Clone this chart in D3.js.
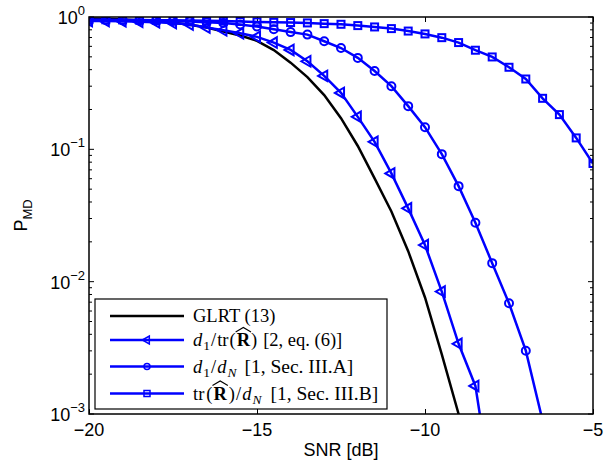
<!DOCTYPE html>
<html>
<head>
<meta charset="utf-8">
<script src="https://cdn.jsdelivr.net/npm/d3@7"></script>
<style>
  body { margin: 0; background: #fff; }
</style>
</head>
<body>
<div id="chart-area"></div>
<script>
// P_MD vs SNR (every 0.5 dB)
var snr = [-20, -19.5, -19, -18.5, -18, -17.5, -17, -16.5, -16, -15.5, -15, -14.5, -14, -13.5, -13,
           -12.5, -12, -11.5, -11, -10.5, -10, -9.5, -9, -8.5, -8, -7.5, -7, -6.5, -6, -5.5, -5];

var glrt = [0.975, 0.968, 0.959, 0.946, 0.929, 0.904, 0.875, 0.832, 0.776, 0.724, 0.661, 0.562,
            0.452, 0.351, 0.257, 0.172, 0.106, 0.0603, 0.0339, 0.0170, 0.00759, 0.00282, 0.00100, 0.000316];

var triVals = [0.933, 0.931, 0.927, 0.920, 0.912, 0.900, 0.877, 0.832, 0.794, 0.753, 0.708, 0.641,
               0.564, 0.463, 0.359, 0.267, 0.176, 0.114, 0.0658, 0.0358, 0.0189, 0.00841, 0.00339,
               0.00163, 0.000251];

var circVals = [0.951, 0.948, 0.946, 0.942, 0.938, 0.931, 0.925, 0.914, 0.902, 0.879, 0.847, 0.807,
                0.769, 0.736, 0.656, 0.583, 0.491, 0.391, 0.300, 0.212, 0.147, 0.0920, 0.0527,
                0.0279, 0.0138, 0.00687, 0.00301, 0.000891];

var sqVals = [0.955, 0.953, 0.951, 0.948, 0.946, 0.944, 0.940, 0.935, 0.931, 0.925, 0.918, 0.912,
              0.908, 0.902, 0.891, 0.881, 0.861, 0.841, 0.817, 0.783, 0.745, 0.698, 0.641, 0.561,
              0.499, 0.417, 0.340, 0.243, 0.183, 0.122, 0.0782];

var xTicks = [-20, -15, -10, -5];
var yMajor = [1e-3, 1e-2, 1e-1, 1];
var yExp = ["\u22123", "\u22122", "\u22121", "0"];

var margin = {left: 89, right: 17, top: 17, bottom: 50};
var width = 610 - margin.left - margin.right,
    height = 464 - margin.top - margin.bottom;

var blue = "#0000ff";

var svg = d3.select("#chart-area")
    .append("svg")
        .attr("width", 610)
        .attr("height", 464)
        .style("font-family", "'Liberation Sans', Arial, sans-serif");

var g = svg.append("g")
    .attr("transform", "translate(" + margin.left + "," + margin.top + ")");

var x = d3.scaleLinear().domain([-20, -5]).range([0, width]);
var y = d3.scaleLog().domain([1e-3, 1]).range([height, 0]);

g.append("rect")
    .attr("width", width).attr("height", height)
    .attr("fill", "#fff");

g.append("clipPath").attr("id", "clip")
  .append("rect").attr("width", width).attr("height", height);

// ticks, pointing inward on all four sides
var xAxisB = d3.axisBottom(x).tickValues(xTicks).tickSize(-5).tickFormat("");
var xAxisT = d3.axisTop(x).tickValues(xTicks).tickSize(-5).tickFormat("");
g.append("g").attr("transform", "translate(0," + height + ")").call(xAxisB);
g.append("g").call(xAxisT);

var allY = y.ticks();
allY.forEach(function(v) {
    var major = Math.abs(Math.log10(v) - Math.round(Math.log10(v))) < 1e-9;
    var len = major ? 5 : 3;
    g.append("line").attr("x1", 0).attr("x2", len).attr("y1", y(v)).attr("y2", y(v))
        .attr("stroke", "#000").attr("stroke-width", 1);
    g.append("line").attr("x1", width).attr("x2", width - len).attr("y1", y(v)).attr("y2", y(v))
        .attr("stroke", "#000").attr("stroke-width", 1);
});
g.selectAll(".domain").remove();
g.selectAll(".tick line").attr("stroke", "#000").attr("stroke-width", 1);

// tick labels
g.selectAll(".xlab")
    .data(xTicks)
  .enter().append("text")
    .attr("x", function(d) { return x(d); })
    .attr("y", height + 22)
    .attr("text-anchor", "middle")
    .attr("font-size", "18px")
    .text(function(d) { return d < 0 ? "\u2212" + Math.abs(d) : d; });

yMajor.forEach(function(v, i) {
    var t = g.append("text")
        .attr("x", -4)
        .attr("y", y(v) + 7)
        .attr("text-anchor", "end")
        .attr("font-size", "18px");
    t.append("tspan").text("10");
    t.append("tspan").attr("dy", -9).attr("font-size", "13px").text(yExp[i]);
});

// axis titles
svg.append("text")
    .attr("x", margin.left + x(-12.5))
    .attr("y", 456)
    .attr("text-anchor", "middle")
    .attr("font-size", "18px")
    .text("SNR [dB]");

var yl = svg.append("text")
    .attr("transform", "translate(27," + (margin.top + height / 2) + ") rotate(-90)")
    .attr("text-anchor", "middle")
    .attr("font-size", "18px");
yl.append("tspan").text("P");
yl.append("tspan").attr("dy", 5).attr("font-size", "13px").text("MD");

// curves
var plot = g.append("g").attr("clip-path", "url(#clip)");

var line = d3.line()
    .x(function(d, i) { return x(snr[i]); })
    .y(function(d) { return y(d); });

plot.append("path").datum(glrt)
    .attr("d", line).attr("fill", "none")
    .attr("stroke", "#000").attr("stroke-width", 2.5);

var triSym = d3.symbol().type(d3.symbolTriangle).size(48);

function drawSeries(vals, kind) {
    plot.append("path").datum(vals)
        .attr("d", line).attr("fill", "none")
        .attr("stroke", blue).attr("stroke-width", 2.5);
    var m = plot.selectAll(".m-" + kind)
        .data(vals)
      .enter();
    if (kind == "tri") {
        m.append("path")
            .attr("d", triSym)
            .attr("transform", function(d, i) { return "translate(" + x(snr[i]) + "," + y(d) + ") rotate(-90)"; })
            .attr("fill", "none").attr("stroke", blue).attr("stroke-width", 2);
    } else if (kind == "circ") {
        m.append("circle")
            .attr("cx", function(d, i) { return x(snr[i]); })
            .attr("cy", function(d) { return y(d); })
            .attr("r", 4)
            .attr("fill", "none").attr("stroke", blue).attr("stroke-width", 2);
    } else {
        m.append("rect")
            .attr("x", function(d, i) { return x(snr[i]) - 3.5; })
            .attr("y", function(d) { return y(d) - 3.5; })
            .attr("width", 7).attr("height", 7)
            .attr("fill", "none").attr("stroke", blue).attr("stroke-width", 2);
    }
}
drawSeries(triVals, "tri");
drawSeries(circVals, "circ");
drawSeries(sqVals, "sq");

// frame
g.append("rect")
    .attr("width", width).attr("height", height)
    .attr("fill", "none").attr("stroke", "#000").attr("stroke-width", 1.5);

// legend
var lg = svg.append("g").attr("transform", "translate(95,299)");
lg.append("rect")
    .attr("width", 292).attr("height", 110)
    .attr("fill", "#fff").attr("stroke", "#000").attr("stroke-width", 1.2);

var rows = [17, 41, 67.5, 94.5];
var serif = "'Liberation Serif', 'Times New Roman', serif";

rows.forEach(function(ry, i) {
    lg.append("line")
        .attr("x1", 15).attr("x2", 89).attr("y1", ry).attr("y2", ry)
        .attr("stroke", i == 0 ? "#000" : blue).attr("stroke-width", 2.5);
});
lg.append("path").attr("d", d3.symbol().type(d3.symbolTriangle).size(28))
    .attr("transform", "translate(52," + rows[1] + ") rotate(-90)")
    .attr("fill", "none").attr("stroke", blue).attr("stroke-width", 1.5);
lg.append("circle").attr("cx", 52).attr("cy", rows[2]).attr("r", 3)
    .attr("fill", "none").attr("stroke", blue).attr("stroke-width", 1.5);
lg.append("rect").attr("x", 49).attr("y", rows[3] - 3).attr("width", 6).attr("height", 6)
    .attr("fill", "none").attr("stroke", blue).attr("stroke-width", 1.5);

function legText(ry) {
    return lg.append("text")
        .attr("x", 98).attr("y", ry + 6)
        .attr("font-family", serif)
        .attr("font-size", "18.5px");
}
// pieces: [text, style, dx, dy]
function addPieces(t, pieces) {
    var hats = [];
    pieces.forEach(function(p) {
        var s = t.append("tspan").text(p[0]);
        if (p[1] == "i") s.attr("font-style", "italic");
        if (p[1] == "b") s.attr("font-weight", "bold");
        if (p[1] == "sub") s.attr("font-size", "13.5px");
        if (p[1] == "isub") s.attr("font-size", "13.5px").attr("font-style", "italic");
        if (p[1] == "w") s.attr("font-size", "19.5px");
        if (p[2]) s.attr("dx", p[2]);
        if (p[3]) s.attr("dy", p[3]);
        if (p[1] == "b") hats.push(s);
    });
    // wide hat over the bold R
    hats.forEach(function(s) {
        var n = s.node();
        var p0 = n.getStartPositionOfChar(0);
        var w = n.getComputedTextLength();
        var by = p0.y;
        lg.append("path")
            .attr("d", "M" + (p0.x - 1) + "," + (by - 14) + " L" + (p0.x + w / 2) + "," + (by - 18.5) +
                       " L" + (p0.x + w + 1) + "," + (by - 14))
            .attr("fill", "none").attr("stroke", "#000").attr("stroke-width", 1.1);
    });
}

var t0 = legText(rows[0]);
t0.text("GLRT (13)");

addPieces(legText(rows[1]), [
    ["d", "i"], ["1", "sub", 1, 4], ["/", "", 1, -4], ["tr", "", 1], ["(", "", 1],
    ["R", "b", 1], [")", "", 1], ["[2, eq. (6)]", "", 6]
]);

addPieces(legText(rows[2]), [
    ["d", "i"], ["1", "sub", 1, 4], ["/", "", 1, -4], ["d", "i", 1], ["N", "isub", 1, 4],
    ["[1, Sec. III.A]", "w", 8, -4]
]);

addPieces(legText(rows[3]), [
    ["tr", ""], ["(", "", 2], ["R", "b", 1], [")", "", 2], ["/", "", 1], ["d", "i", 1],
    ["N", "isub", 1, 4], ["[1, Sec. III.B]", "w", 9, -4]
]);
</script>
</body>
</html>
